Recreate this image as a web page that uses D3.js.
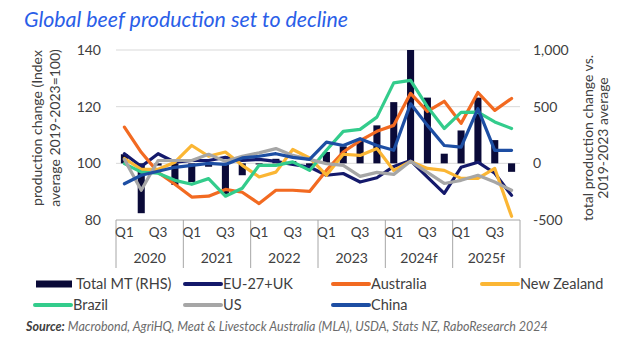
<!DOCTYPE html>
<html>
<head>
<meta charset="utf-8">
<script src="https://cdn.jsdelivr.net/npm/d3@7"></script>
<style>
  html, body { margin: 0; padding: 0; background: #fff; }
  svg { display: block; font-family: Lato, "Open Sans", sans-serif; }
</style>
</head>
<body>
<svg id="chart"></svg>
<script>
// chart data
const years = ['2020', '2021', '2022', '2023', '2024f', '2025f'];
const quarterNames = ['Q1', 'Q2', 'Q3', 'Q4'];

// Total MT (RHS), thousand tonnes vs 2019-2023 average
const totalMT = [80, -440, -20, -190, -165, -30, -270, -105, -10, 40, 20, -30,
  100, 150, 200, 335, 540, 1000, 580, 85, 290, 580, 205, -75];

// index, 2019-2023 average = 100
const euUk = [103.4, 98.9, 103.4, 100.4, 101, 101, 102.1, 101, 101.4, 100.7, 99.6, 98.7,
  95.8, 96.4, 93.4, 94.9, 98.9, 101, 95.1, 89.4, 98.6, 100.4, 96.5, 88.7];
const australia = [112.8, 103.9, 96.8, 92.6, 88.1, 88.4, 90.8, 89.8, 85.8, 90.5, 90.5, 90.1,
  97.5, 104, 108, 111.3, 113.4, 124.7, 118.3, 121.9, 114.1, 125, 118.7, 122.9];
const newZealand = [101.7, 97.9, 97.9, 100.4, 106.3, 102.5, 104, 99.3, 95.2, 96.9, 104.9, 101.9,
  95.8, 103.2, 102.8, 105.2, 97.5, 100.7, 98.2, 97.5, 94.7, 94.7, 98.2, 81.3];
const brazil = [99.9, 96.9, 96.5, 94, 92.6, 94.6, 88.4, 91.2, 99.3, 99.3, 100.5, 97.5,
  104.6, 111.3, 112, 116.3, 128.4, 129.3, 120, 112.3, 118, 118.1, 114.6, 112.3];
const us = [101.4, 90.5, 101, 101, 101, 103.2, 100.7, 102.5, 103.7, 105.2, 102.8, 101.4,
  99.9, 99.3, 95.4, 96.8, 96.1, 100.7, 96.8, 92.9, 94, 95.8, 93.4, 90.5];
const china = [92.8, 95.8, 97.2, 98.6, 99.3, 100, 99.6, 101.9, 102.5, 103.4, 102.1, 101.4,
  107.5, 106.3, 108.7, 106.3, 104.6, 121, 113.4, 106.3, 105.7, 119.3, 104.6, 104.6];

const leftTicks = [80, 100, 120, 140];
const rightTicks = [-500, 0, 500, 1000];

const series = [
  { name: 'EU-27+UK', values: euUk, color: '#14196b' },
  { name: 'Australia', values: australia, color: '#f26a21' },
  { name: 'New Zealand', values: newZealand, color: '#fbb634' },
  { name: 'Brazil', values: brazil, color: '#33cc8c' },
  { name: 'US', values: us, color: '#a6a6a6' },
  { name: 'China', values: china, color: '#1d4ea3' }
];

const width = 634, height = 354;
const plot = { left: 116, right: 520, top: 50, bottom: 220 };
const textColor = '#404040';

const svg = d3.select('#chart')
  .attr('width', width)
  .attr('height', height);

const keys = [];
years.forEach(y => quarterNames.forEach(q => keys.push(y + '|' + q)));

const x = d3.scaleBand()
  .domain(keys)
  .range([plot.left, plot.right])
  .paddingInner(0.58)
  .paddingOuter(0.29);
const cx = i => x(keys[i]) + x.bandwidth() / 2;

const yL = d3.scaleLinear().domain([80, 140]).range([plot.bottom, plot.top]);
const yR = d3.scaleLinear().domain([-500, 1000]).range([plot.bottom, plot.top]);

// Title
svg.append('text')
  .attr('x', 24)
  .attr('y', 27)
  .attr('textLength', 324)
  .attr('lengthAdjust', 'spacingAndGlyphs')
  .style('font-size', '21px')
  .style('font-style', 'italic')
  .style('fill', '#2a5ee8')
  .text('Global beef production set to decline');

// Gridlines
svg.append('g')
  .selectAll('line')
  .data(leftTicks.filter(d => d > 80))
  .enter().append('line')
  .attr('x1', plot.left)
  .attr('x2', plot.right)
  .attr('y1', d => yL(d))
  .attr('y2', d => yL(d))
  .attr('stroke', '#d9d9d9')
  .attr('stroke-width', 1);

// Bars (RHS)
svg.append('g')
  .selectAll('rect')
  .data(totalMT)
  .enter().append('rect')
  .attr('x', (d, i) => x(keys[i]))
  .attr('width', x.bandwidth())
  .attr('y', d => Math.min(yR(d), yR(0)))
  .attr('height', d => Math.abs(yR(d) - yR(0)))
  .attr('fill', '#0a0a38');

// Lines
const line = d3.line()
  .x((d, i) => cx(i))
  .y(d => yL(d));

svg.append('g')
  .selectAll('path')
  .data(series)
  .enter().append('path')
  .attr('d', d => line(d.values))
  .attr('fill', 'none')
  .attr('stroke', d => d.color)
  .attr('stroke-width', 3.2)
  .attr('stroke-linejoin', 'round')
  .attr('stroke-linecap', 'round');

// Left axis
const gL = svg.append('g')
  .attr('transform', `translate(${plot.left},0)`)
  .call(d3.axisLeft(yL).tickValues(leftTicks).tickSize(0).tickPadding(15));
gL.select('.domain').remove();
gL.selectAll('text')
  .style('font-size', '14px')
  .style('font-family', 'Lato, sans-serif')
  .style('fill', textColor);

// Right axis
const gR = svg.append('g')
  .attr('transform', `translate(${plot.right},0)`)
  .call(d3.axisRight(yR).tickValues(rightTicks).tickSize(0).tickPadding(13)
    .tickFormat(d => d3.format(',')(d).replace('\u2212', '-')));
gR.select('.domain').remove();
gR.selectAll('text')
  .style('font-size', '14px')
  .style('font-family', 'Lato, sans-serif')
  .style('fill', textColor);

// Axis titles
const axisTitle = (lines, xs, cy) => {
  lines.forEach((t, k) => {
    svg.append('text')
      .attr('transform', `translate(${xs[k]},${cy}) rotate(-90)`)
      .attr('text-anchor', 'middle')
      .attr('dy', '0.35em')
      .style('font-size', '14px')
      .style('fill', textColor)
      .text(t);
  });
};
axisTitle(['production change (Index', 'average 2019-2023=100)'], [37, 55], 128);
axisTitle(['total production change vs.', '2019-2023 average'], [588, 603], 138);

// X axis: category box
const gx = svg.append('g');
const step = x.step();
gx.append('line')
  .attr('x1', plot.left).attr('x2', plot.right)
  .attr('y1', plot.bottom).attr('y2', plot.bottom)
  .attr('stroke', '#a6a6a6');
d3.range(years.length + 1).forEach(k => {
  const bx = plot.left + step * 4 * k;
  gx.append('line')
    .attr('x1', bx).attr('x2', bx)
    .attr('y1', plot.bottom).attr('y2', plot.bottom + 48)
    .attr('stroke', '#a6a6a6');
});

const gq = svg.append('g')
  .attr('transform', `translate(0,${plot.bottom})`)
  .call(d3.axisBottom(x)
    .tickValues(keys.filter(k => /Q1|Q3/.test(k)))
    .tickSize(0)
    .tickPadding(7)
    .tickFormat(k => k.split('|')[1]));
gq.select('.domain').remove();
gq.selectAll('text')
  .style('font-size', '13.5px')
  .style('font-family', 'Lato, sans-serif')
  .style('fill', textColor);

gx.selectAll('.year')
  .data(years)
  .enter().append('text')
  .attr('class', 'year')
  .attr('x', (d, k) => (cx(k * 4) + cx(k * 4 + 3)) / 2)
  .attr('y', 263)
  .attr('text-anchor', 'middle')
  .style('font-size', '14px')
  .style('fill', textColor)
  .text(d => d);

// Legend
const legendItems = [
  { name: 'Total MT (RHS)', color: '#0a0a38', bar: true, x: 36, y: 284 },
  { name: series[0].name, color: series[0].color, x: 183, y: 284 },
  { name: series[1].name, color: series[1].color, x: 331, y: 284 },
  { name: series[2].name, color: series[2].color, x: 480, y: 284 },
  { name: series[3].name, color: series[3].color, x: 33, y: 305 },
  { name: series[4].name, color: series[4].color, x: 183, y: 305 },
  { name: series[5].name, color: series[5].color, x: 331, y: 305 }
];

const lg = svg.append('g');
legendItems.forEach(d => {
  if (d.bar) {
    lg.append('rect')
      .attr('x', d.x).attr('y', d.y - 3.5)
      .attr('width', 36).attr('height', 7)
      .attr('fill', d.color);
  } else {
    lg.append('line')
      .attr('x1', d.x + 2).attr('x2', d.x + 38)
      .attr('y1', d.y).attr('y2', d.y)
      .attr('stroke', d.color)
      .attr('stroke-width', 4)
      .attr('stroke-linecap', 'round');
  }
  lg.append('text')
    .attr('x', d.x + 40)
    .attr('y', d.y + 5)
    .style('font-size', '14.5px')
    .style('fill', textColor)
    .text(d.name);
});

// Source
const src = svg.append('text')
  .attr('x', 26)
  .attr('y', 331)
  .style('font-size', '12.5px')
  .style('font-style', 'italic');
src.append('tspan')
  .style('font-weight', 'bold')
  .style('fill', textColor)
  .text('Source:');
src.append('tspan')
  .style('fill', '#6b6b6b')
  .text(' Macrobond, AgriHQ, Meat & Livestock Australia (MLA), USDA, Stats NZ, RaboResearch 2024');
</script>
</body>
</html>
